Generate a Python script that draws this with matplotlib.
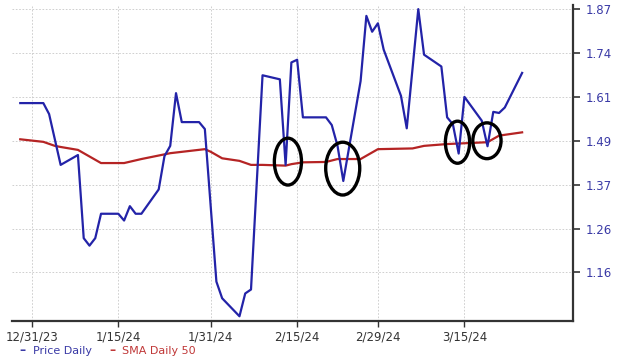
import numpy as np
import pandas as pd
import matplotlib
matplotlib.use("Agg")
import matplotlib.pyplot as plt
import matplotlib.dates as mdates
from matplotlib.patches import Ellipse

# daily close
price_dates = ["2023-12-29", "2024-01-02", "2024-01-03", "2024-01-05", "2024-01-08",
               "2024-01-09", "2024-01-10", "2024-01-11", "2024-01-12", "2024-01-15",
               "2024-01-16", "2024-01-17", "2024-01-18", "2024-01-19", "2024-01-22",
               "2024-01-23", "2024-01-24", "2024-01-25", "2024-01-26", "2024-01-29",
               "2024-01-30", "2024-02-01", "2024-02-02", "2024-02-05", "2024-02-06",
               "2024-02-07", "2024-02-09", "2024-02-12", "2024-02-13", "2024-02-14",
               "2024-02-15", "2024-02-16", "2024-02-20", "2024-02-21", "2024-02-22",
               "2024-02-23", "2024-02-26", "2024-02-27", "2024-02-28", "2024-02-29",
               "2024-03-01", "2024-03-04", "2024-03-05", "2024-03-07", "2024-03-08",
               "2024-03-11", "2024-03-12", "2024-03-13", "2024-03-14", "2024-03-15",
               "2024-03-18", "2024-03-19", "2024-03-20", "2024-03-21", "2024-03-22",
               "2024-03-25"]
price = [1.593, 1.593, 1.563, 1.424, 1.451,
         1.238, 1.221, 1.238, 1.297, 1.297,
         1.280, 1.316, 1.297, 1.297, 1.358,
         1.448, 1.476, 1.621, 1.541, 1.541,
         1.522, 1.139, 1.101, 1.060, 1.112,
         1.121, 1.674, 1.662, 1.424, 1.712,
         1.720, 1.554, 1.554, 1.533, 1.476,
         1.380, 1.657, 1.850, 1.803, 1.828,
         1.750, 1.613, 1.524, 1.870, 1.735,
         1.700, 1.554, 1.535, 1.455, 1.610,
         1.545, 1.475, 1.569, 1.566, 1.581,
         1.681]

# 50 day simple moving average
sma_dates = ["2023-12-29", "2024-01-02", "2024-01-04", "2024-01-05", "2024-01-08",
             "2024-01-12", "2024-01-16", "2024-01-19", "2024-01-24", "2024-01-30",
             "2024-01-31", "2024-02-02", "2024-02-05", "2024-02-07", "2024-02-09",
             "2024-02-13", "2024-02-14", "2024-02-16", "2024-02-20", "2024-02-22",
             "2024-02-26", "2024-02-29", "2024-03-06", "2024-03-08", "2024-03-12",
             "2024-03-19", "2024-03-21", "2024-03-25"]
sma = [1.494, 1.487, 1.476, 1.473, 1.465,
       1.429, 1.429, 1.440, 1.456, 1.467,
       1.460, 1.442, 1.435, 1.424, 1.424,
       1.422, 1.426, 1.431, 1.432, 1.440,
       1.440, 1.467, 1.469, 1.476, 1.481,
       1.486, 1.504, 1.513]

y_ticks = [1.16, 1.26, 1.37, 1.49, 1.61, 1.74, 1.87]
x_ticks = ["2023-12-31", "2024-01-15", "2024-01-31", "2024-02-15", "2024-02-29", "2024-03-15"]
x_labels = ["12/31/23", "1/15/24", "1/31/24", "2/15/24", "2/29/24", "3/15/24"]

# circled dips: centre date, price, width (days), height (price), day shift
circle_dates = ["2024-02-13", "2024-02-23", "2024-03-14", "2024-03-19"]
circle_prices = [1.433, 1.415, 1.486, 1.490]
circle_w = [4.7, 5.9, 4.2, 4.9]
circle_h = [0.128, 0.142, 0.115, 0.098]
circle_shift = [0.4, -0.1, -0.2, -0.1]

# the price axis is spaced evenly by its tick labels
idx = np.arange(len(y_ticks), dtype=float)
tk = np.array(y_ticks)


def fwd(v):
    v = np.asarray(v, dtype=float)
    out = np.interp(v, tk, idx)
    out = np.where(v < tk[0], (v - tk[0]) / (tk[1] - tk[0]), out)
    out = np.where(v > tk[-1], idx[-1] + (v - tk[-1]) / (tk[-1] - tk[-2]), out)
    return out


def inv(u):
    u = np.asarray(u, dtype=float)
    out = np.interp(u, idx, tk)
    out = np.where(u < 0, tk[0] + u * (tk[1] - tk[0]), out)
    out = np.where(u > idx[-1], tk[-1] + (u - idx[-1]) * (tk[-1] - tk[-2]), out)
    return out


fig = plt.figure(figsize=(6.2, 3.62), dpi=100)
ax = fig.add_axes([0.019, 0.113, 0.905, 0.873])

ax.plot(pd.to_datetime(price_dates), price, color="#2323a8", lw=1.6, zorder=3)
ax.plot(pd.to_datetime(sma_dates), sma, color="#b52424", lw=1.6, zorder=2)

ax.set_yscale("function", functions=(fwd, inv))
ax.set_ylim(1.049, 1.882)
base = mdates.date2num(pd.Timestamp("2023-12-31"))
ax.set_xlim(base - 3.47, base + 93.8)

for d, p, w, h, s in zip(circle_dates, circle_prices, circle_w, circle_h, circle_shift):
    cx = mdates.date2num(pd.Timestamp(d)) + s
    ax.add_patch(Ellipse((cx, p), w, h, fill=False, ec="black", lw=2.4, zorder=4))

ax.yaxis.tick_right()
ax.set_yticks(y_ticks)
ax.set_yticklabels([f"{t:.2f}" for t in y_ticks])
ax.yaxis.set_minor_locator(plt.NullLocator())
ax.set_xticks(pd.to_datetime(x_ticks))
ax.set_xticklabels(x_labels)

ax.tick_params(axis="y", colors="#333333", labelcolor="#3a3aa6", labelsize=8.5,
               length=5, width=1.2, pad=4)
ax.tick_params(axis="x", colors="#333333", labelcolor="#333333", labelsize=8.5,
               length=4, width=1.0, pad=3)

ax.grid(True, color="#c8c8c8", ls=(0, (2, 2)), lw=0.6)
for side in ["left", "top"]:
    ax.spines[side].set_visible(False)
for side in ["bottom", "right"]:
    ax.spines[side].set_color("#333333")
    ax.spines[side].set_linewidth(1.6)

# legend below the axis
fig.text(0.032, 0.022, "\u2013", color="#3a3aa6", fontsize=9, fontweight="bold")
fig.text(0.053, 0.022, "Price Daily", color="#3a3aa6", fontsize=8)
fig.text(0.177, 0.022, "\u2013", color="#c03838", fontsize=9, fontweight="bold")
fig.text(0.197, 0.022, "SMA Daily 50", color="#c03838", fontsize=8)

fig.savefig("out.png", dpi=100)
